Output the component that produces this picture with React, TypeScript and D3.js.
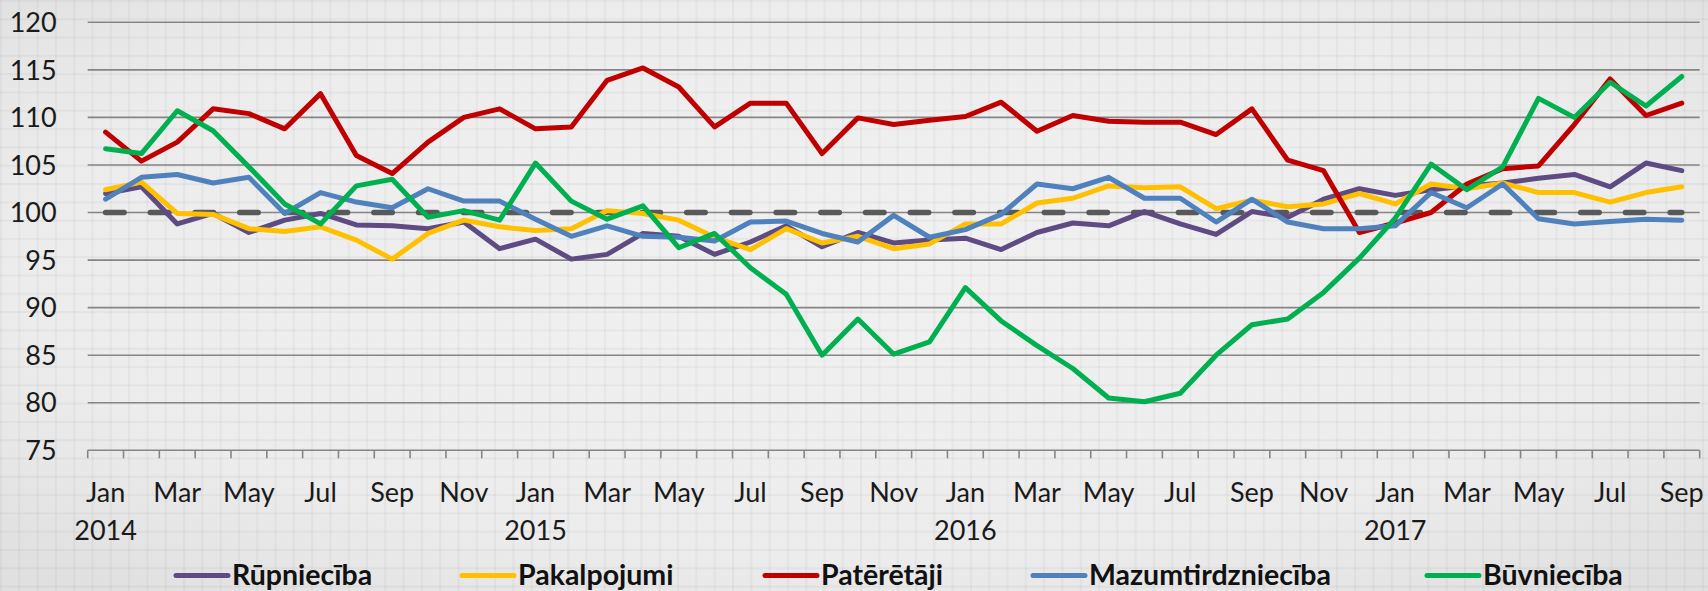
import React from "react";
import * as d3 from "d3";

// months Jan 2014 .. Sep 2017
const monthNames = ["Jan", "Feb", "Mar", "Apr", "May", "Jun", "Jul", "Aug", "Sep", "Oct", "Nov", "Dec"];
const years = [2014, 2015, 2016, 2017];
const months = d3.range(45).map(i => ({ m: monthNames[i % 12], y: years[Math.floor(i / 12)], i }));

const yTicks = [75, 80, 85, 90, 95, 100, 105, 110, 115, 120];

const rupnieciba = [
  102.0, 102.7, 98.8, 99.9, 97.9, 99.2, 99.9, 98.7, 98.6, 98.3, 99.0, 96.2,
  97.2, 95.1, 95.6, 97.8, 97.5, 95.6, 96.9, 98.6, 96.4, 97.9, 96.8, 97.1,
  97.3, 96.1, 97.9, 98.9, 98.6, 100.1, 98.8, 97.7, 100.1, 99.5, 101.4, 102.5,
  101.8, 102.4, 102.8, 103.1, 103.6, 104.0, 102.7, 105.2, 104.4,
];
const pakalpojumi = [
  102.4, 103.2, 99.9, 99.8, 98.3, 98.0, 98.5, 97.1, 95.1, 97.8, 99.2, 98.5,
  98.1, 98.3, 100.2, 99.9, 99.2, 97.4, 96.1, 98.3, 96.8, 97.5, 96.2, 96.7,
  98.8, 98.8, 101.0, 101.5, 102.8, 102.6, 102.7, 100.4, 101.3, 100.6, 100.9, 102.0,
  100.9, 103.0, 102.5, 103.1, 102.1, 102.1, 101.1, 102.1, 102.7,
];
const pateretaji = [
  108.45, 105.4, 107.4, 110.9, 110.4, 108.8, 112.5, 106.0, 104.1, 107.4, 110.0, 110.9,
  108.8, 109.0, 113.9, 115.2, 113.2, 109.0, 111.5, 111.5, 106.2, 109.95, 109.25, 109.7,
  110.1, 111.6, 108.55, 110.2, 109.6, 109.5, 109.5, 108.2, 110.9, 105.5, 104.4, 97.9,
  98.9, 100.0, 103.0, 104.6, 104.9, 109.25, 114.05, 110.2, 111.5,
];
const mazumtirdznieciba = [
  101.4, 103.7, 104.0, 103.1, 103.7, 99.9, 102.1, 101.1, 100.5, 102.5, 101.2, 101.2,
  99.3, 97.5, 98.6, 97.5, 97.4, 97.0, 99.0, 99.1, 97.8, 96.9, 99.7, 97.4,
  98.2, 99.8, 103.0, 102.5, 103.7, 101.5, 101.5, 99.0, 101.4, 99.0, 98.3, 98.3,
  98.6, 102.1, 100.5, 103.0, 99.35, 98.8, 99.05, 99.3, 99.2,
];
const buvnieciba = [
  106.7, 106.2, 110.7, 108.6, 104.8, 100.9, 98.8, 102.8, 103.5, 99.5, 100.2, 99.2,
  105.2, 101.2, 99.3, 100.7, 96.3, 97.8, 94.2, 91.4, 85.0, 88.8, 85.1, 86.4,
  92.1, 88.6, 86.0, 83.6, 80.5, 80.1, 81.0, 85.0, 88.2, 88.8, 91.6, 95.2,
  99.4, 105.1, 102.4, 104.8, 112.0, 110.0, 113.7, 111.2, 114.3,
];
const baseline = months.map(() => 100);

const series = [
  { name: "Rūpniecība", values: rupnieciba, color: "#5f4b84" },
  { name: "Pakalpojumi", values: pakalpojumi, color: "#ffc000" },
  { name: "Patērētāji", values: pateretaji, color: "#c00000" },
  { name: "Mazumtirdzniecība", values: mazumtirdznieciba, color: "#4f81bd" },
  { name: "Būvniecība", values: buvnieciba, color: "#00b050" },
];

const W = 1708;
const H = 591;
const left = 87.7;
const right = 1699.7;
const top = 22.3;
const bottom = 450.3;
const font = "Lato, 'Open Sans', sans-serif";
const legendX = [174, 460, 763, 1031, 1425];

export default function App() {
  const x = d3.scaleBand<number>().domain(months.map(d => d.i)).range([left, right]);
  const y = d3.scaleLinear().domain([75, 120]).range([bottom, top]);
  const cx = (i: number) => (x(i) as number) + x.bandwidth() / 2;

  const line = d3.line<number>()
    .x((_, i) => cx(i))
    .y(d => y(d));

  const ticks = d3.range(46).map(k => left + k * x.bandwidth());

  return (
    <svg width={W} height={H} style={{ position: "absolute", left: 0, top: 0, display: "block" }}>
      <defs>
        <radialGradient id="bg" cx="50%" cy="45%" r="70%">
          <stop offset="0%" stopColor="#f1f1f1" />
          <stop offset="70%" stopColor="#ececec" />
          <stop offset="100%" stopColor="#e0e0e0" />
        </radialGradient>
        <pattern id="grid" width="18.3" height="18.3" patternUnits="userSpaceOnUse">
          <rect x="0" y="0" width="2" height="18.3" fill="rgba(0,0,0,0.035)" />
          <rect x="0" y="0" width="18.3" height="2" fill="rgba(0,0,0,0.035)" />
        </pattern>
      </defs>
      <rect width={W} height={H} fill="url(#bg)" />
      <rect width={W} height={H} fill="url(#grid)" />

      {/* gridlines */}
      {yTicks.map(t => (
        <line key={t} x1={left} x2={right} y1={y(t)} y2={y(t)} stroke="#858585" strokeWidth={1.6} />
      ))}
      {ticks.map((tx, k) => (
        <line key={k} x1={tx} x2={tx} y1={bottom} y2={bottom + 8} stroke="#858585" strokeWidth={1.6} />
      ))}

      {/* y labels */}
      {yTicks.map(t => (
        <text key={t} x={56.7} y={y(t) + 9.7} textAnchor="end" fontFamily={font} fontSize={27} fill="#1a1a1a">
          {t}
        </text>
      ))}

      {/* x labels */}
      {months.filter(d => d.i % 2 === 0).map(d => (
        <text key={d.i} x={cx(d.i)} y={501.5} textAnchor="middle" fontFamily={font} fontSize={27} fill="#1a1a1a">
          {d.m}
        </text>
      ))}
      {months.filter(d => d.i % 12 === 0).map(d => (
        <text key={"y" + d.i} x={cx(d.i)} y={540} textAnchor="middle" fontFamily={font} fontSize={27} fill="#1a1a1a">
          {d.y}
        </text>
      ))}

      {/* 100 reference line */}
      <path d={line(baseline) || ""} fill="none" stroke="#595959" strokeWidth={5.5}
        strokeDasharray="18.5,26.2" strokeLinecap="round" />

      {series.map(s => (
        <path key={s.name} d={line(s.values) || ""} fill="none" stroke={s.color} strokeWidth={5}
          strokeLinejoin="round" strokeLinecap="round" />
      ))}

      {/* legend */}
      {series.map((s, k) => (
        <g key={s.name} transform={`translate(${legendX[k]},575.5)`}>
          <line x1={2} x2={54} y1={0} y2={0} stroke={s.color} strokeWidth={5} strokeLinecap="round" />
          <text x={58} y={9} fontFamily={font} fontSize={28.5} fontWeight={700} fill="#111">
            {s.name}
          </text>
        </g>
      ))}
    </svg>
  );
}
